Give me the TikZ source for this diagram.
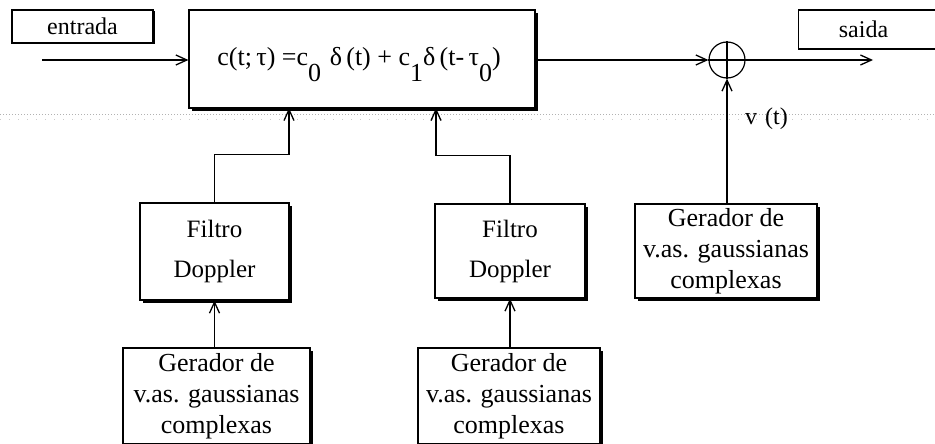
\documentclass[tikz,border=0pt]{standalone}
\usepackage{fontspec}
\setmainfont{Liberation Serif}
\usetikzlibrary{arrows.meta,shadows,calc}
\newcommand{\lowsub}[1]{\raisebox{-16pt}[0pt][0pt]{#1}}
\begin{document}
\begin{tikzpicture}[x=1pt,y=-1pt,
  every node/.style={font=\fontsize{24}{30}\selectfont},
  blk/.style={draw,line width=1.2pt,fill=white,inner sep=0pt,align=center,
    drop shadow={shadow xshift=3pt,shadow yshift=-3pt,fill=black,opacity=1}},
  gen/.style={blk,font=\fontsize{26}{31}\selectfont},
  filt/.style={blk,font=\fontsize{25}{40}\selectfont},
  lbl/.style={draw,line width=1.1pt,fill=white,inner sep=0pt,
    drop shadow={shadow xshift=1.5pt,shadow yshift=-1.5pt,fill=black,opacity=1}},
  con/.style={line width=1.3pt},
  arr/.style={con,-{Straight Barb[length=11pt,width=10pt,line width=1.3pt]}}]
\useasboundingbox (0,0) rectangle (935,444);
% scanner dotted line
\draw[gray!60,line width=1pt,dotted] (0,114) -- (935,114);
\draw[gray!40,line width=0.8pt,dash pattern=on 1pt off 8pt] (0,119) -- (935,119);
% top row
\node[lbl,minimum width=141pt,minimum height=33pt] (entrada) at (82.5,26.5) {entrada};
\node[blk,minimum width=346pt,minimum height=98pt,font=\fontsize{26}{30}\selectfont] (main) at (362,59)
  {\hspace*{-6pt}c(t;\,τ) =c\lowsub{0}\,\,δ\,(t) + c\lowsub{1}δ\,(t-\,τ\lowsub{0})};
\node[draw,circle,line width=1.2pt,minimum size=36pt,inner sep=0pt] (sum) at (727,60) {};
\draw[line width=1.2pt] (sum.north) -- (sum.south) (sum.west) -- (sum.east);
\node[lbl,minimum width=140pt,minimum height=39pt,anchor=west] (saida) at (798,29.5) {\hspace*{-10pt}saida};
\coordinate (in) at (42,60);
\coordinate (out) at (873,60);
\draw[arr] (in) -- (main.west |- in);
\draw[arr] (main.east |- sum) -- (sum.west);
\draw[arr] (sum.east) -- (out);
% lower blocks
\node[filt,minimum width=149pt,minimum height=97pt] (f1) at (214.5,251.5) {Filtro\\Doppler};
\node[gen,minimum width=187pt,minimum height=96pt] (g1) at (216.5,396) {Gerador de\\v.as. gaussianas\\complexas};
\node[filt,minimum width=150pt,minimum height=94pt] (f2) at (510,251) {Filtro\\Doppler};
\node[gen,minimum width=182pt,minimum height=96pt] (g2) at (509,396) {Gerador de\\v.as. gaussianas\\complexas};
\node[gen,minimum width=182pt,minimum height=94pt] (g3) at (726,251) {Gerador de\\v.as. gaussianas\\complexas};
\coordinate (m1) at (289,108);
\coordinate (m2) at (436,108);
\draw[arr] (f1.north) -- ++(0,-48) -| (m1);
\draw[arr] (f2.north) -- ++(0,-48) -| (m2);
\draw[arr] (g1.north -| f1.south) -- (f1.south);
\draw[arr] (g2.north -| f2.south) -- (f2.south);
\draw[arr] (g3.north -| sum.south) -- (sum.south);
\node[anchor=west,inner sep=0pt] (v) at (745,119) {v\,\,(t)};
\end{tikzpicture}
\end{document}
